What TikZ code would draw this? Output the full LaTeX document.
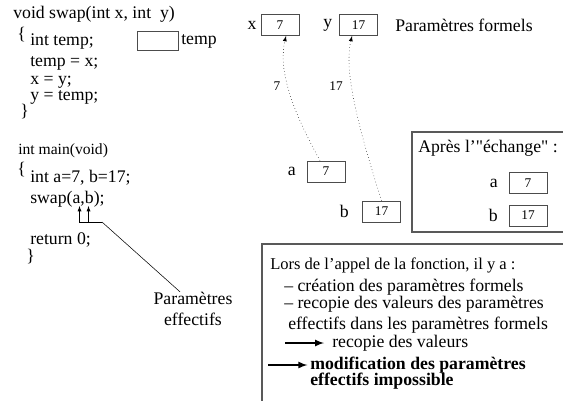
\documentclass[tikz,border=0pt]{standalone}
\usepackage{fontspec}
\setmainfont{Liberation Serif}
\usetikzlibrary{positioning}
\newcommand{\dq}{\XeTeXglyph\XeTeXcharglyph"22\relax}

\begin{document}
\begin{tikzpicture}[x=0.75pt,y=-0.75pt,
    every node/.style={inner sep=0pt,font=\fontsize{13.3}{16}\selectfont},
    code/.style={anchor=west},
    small/.style={font=\fontsize{11.7}{14}\selectfont},
    valbox/.style={draw=black!70,minimum width=28.5pt,minimum height=16pt,font=\fontsize{10}{12}\selectfont},
    frame/.style={draw=black!65,line width=0.8pt}]
  \useasboundingbox (0,0) rectangle (563,401);
  % function swap
  \node[code] (sig) at (13,14) {void swap(int x, int\ \ y)};
  \node[code] (ob1) at (17,35) {\{};
  \node[code] (l1) at (30,42) {int temp;};
  \node[code] (l2) at (30,63) {temp = x;};
  \node[code] (l3) at (30,82) {x = y;};
  \node[code] (l4) at (30,97) {y = temp;};
  \node[code] (cb1) at (20,112) {\}};
  \node[draw=black!70,minimum width=30.75pt,minimum height=14.5pt] (tbox) at (157.5,40.5) {};
  \node[code] (tlab) at (181,41) {temp};
  % main
  \node[code,small] (mn) at (18,151) {int main(void)};
  \node[code] (ob2) at (17,170) {\{};
  \node[code] (m1) at (30,178) {int a=7, b=17;};
  \node[code] (m2) at (30,199) {swap(a,b);};
  \node[code] (m3) at (30,240) {return 0;};
  \node[code] (cb2) at (26,257) {\}};
  \node[align=center] (eff) at (193,309) {Paramètres\\effectifs};
  \coordinate (pa) at (79.5,206);
  \coordinate (pb) at (88.5,206);
  \coordinate (pc) at (102,222);
  \draw[-latex] (pc) -| (pa);
  \draw[-latex] (pb |- pc) -- (pb);
  \draw (pc) -- (eff.north -| 180,0);
  % formal parameters
  \node[valbox] (xbox) at (280,25) {7};
  \node[left=3pt of xbox] (xlab) {x};
  \node[valbox] (ybox) at (358.5,25) {17};
  \node[left=5pt of ybox] (ylab) {y};
  \node[code] (form) at (395,25) {Paramètres formels};
  % effective parameters
  \node[valbox] (abox) at (326,171.5) {7};
  \node[left=8pt of abox] (alab) {a};
  \node[valbox] (bbox) at (381.5,211.5) {17};
  \node[left=10pt of bbox] (blab) {b};
  \draw[dotted,-latex] (abox.north -| 320,0) .. controls (292,110) and (278,70) .. (xbox.south -| 286,0);
  \draw[dotted,-latex] (bbox.north) .. controls (356,120) and (344,70) .. (ybox.south -| 352,0);
  \node[font=\fontsize{10}{12}\selectfont] (v7) at (277,86) {7};
  \node[font=\fontsize{10}{12}\selectfont] (v17) at (336,86) {17};
  % after the swap
  \draw[frame] (563,132) -- (412,132) -- (412,232) -- (563,232);
  \node[code] (apres) at (418,148) {Après l’\dq échange\dq{} :};
  \node[valbox] (a2box) at (528,183) {7};
  \node[left=8pt of a2box] (a2lab) {a};
  \node[valbox] (b2box) at (528,215.5) {17};
  \node[left=8pt of b2box] (b2lab) {b};
  % comment box
  \draw[frame] (563,244) -- (262,244) -- (262,401);
  \node[code,font=\fontsize{12.4}{15}\selectfont] (t1) at (270,265) {Lors de l’appel de la fonction, il y a :};
  \node[code] (t2) at (284,287) {– création des paramètres formels};
  \node[code] (t3) at (284,304) {– recopie des valeurs des paramètres};
  \node[code] (t4) at (288,325) {effectifs dans les paramètres formels};
  \node[code] (t5) at (332,343) {recopie des valeurs};
  \node[code,font=\fontsize{13.3}{16}\selectfont\bfseries] (t6) at (310,365) {modification des paramètres};
  \node[code,font=\fontsize{13.3}{16}\selectfont\bfseries] (t7) at (310,381) {effectifs impossible};
  \draw[-latex,line width=1.3pt] (t5.west -| 285,0) -- ([xshift=-6pt]t5.west);
  \draw[-latex,line width=1.3pt] (t6.west -| 268,0) -- ([xshift=-2pt]t6.west);
\end{tikzpicture}
\end{document}
